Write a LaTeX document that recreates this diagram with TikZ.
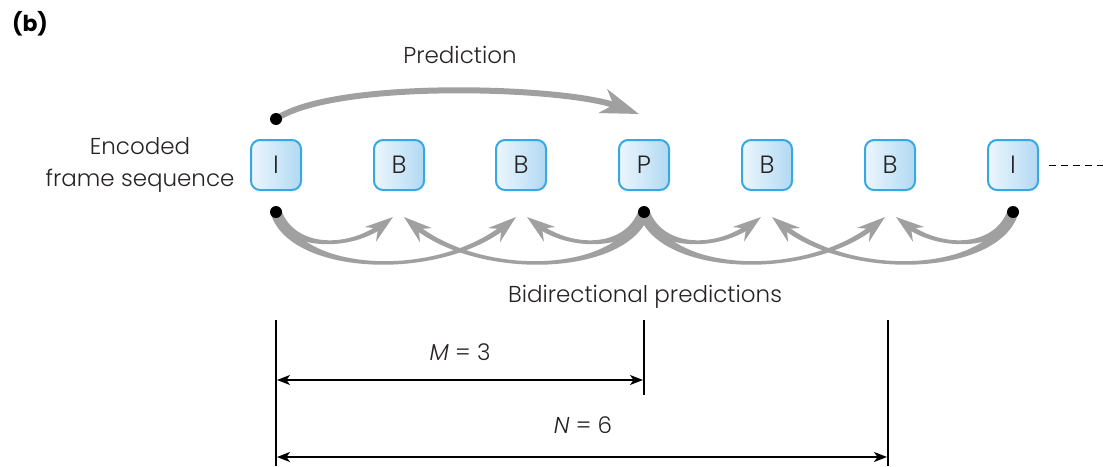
\documentclass[tikz,border=0pt]{standalone}
\usepackage{fontspec}
\setmainfont{Poppins}[UprightFont={* Light},ItalicFont={* Light Italic},BoldFont={* Bold}]
\usetikzlibrary{arrows.meta,calc}
\definecolor{arr}{RGB}{160,160,160}
\definecolor{boxedge}{RGB}{56,168,226}
\definecolor{boxl}{RGB}{236,246,253}
\definecolor{boxr}{RGB}{178,217,243}
\definecolor{txt}{RGB}{40,35,35}
% tapered arrow: #1 start (name), #2 control 1, #3 control 2, #4 tip (name)
\newcommand\taperarrow[4]{%
  \coordinate (tE) at ($(#4)!12pt!(#3)$);
  \fill[arr] ($(#1)!5.5pt!90:(#2)$) .. controls ($(#2)!5.5pt!-90:(#1)$) and ($(#3)!2.5pt!90:(tE)$) .. ($(tE)!2.5pt!-90:(#3)$)
     -- ($(tE)!2.5pt!90:(#3)$) .. controls ($(#3)!2.5pt!-90:(tE)$) and ($(#2)!5.5pt!90:(#1)$) .. ($(#1)!5.5pt!-90:(#2)$) -- cycle;
  \draw[bihead] (tE) -- (#4);
}
\begin{document}
\begin{tikzpicture}[x=1pt,y=-1pt,
  frame/.style={draw=boxedge,line width=2pt,rounded corners=9pt,minimum width=50pt,minimum height=50pt,
    left color=boxl,right color=boxr,font=\fontsize{25}{28}\selectfont,text=txt,inner sep=0pt},
  lbl/.style={font=\fontsize{23}{32}\selectfont,text=txt,inner sep=0pt},
  pred/.style={draw=arr,line width=6pt,-{Stealth[length=38pt,width=25pt,inset=11pt]}},
  bihead/.style={draw=arr,line width=4.5pt,-{Stealth[length=28pt,width=18pt,inset=9pt]}},
  dim/.style={draw=black,line width=1.3pt,{Stealth[length=13pt,width=10pt,inset=3.5pt]}-{Stealth[length=13pt,width=10pt,inset=3.5pt]}},
  tick/.style={draw=black,line width=1.3pt},
  dot/.style={fill=black}]
\useasboundingbox (0,0) rectangle (1103,466);
% frames
\node[frame] (f1) at (276,165) {I};
\node[frame] (f2) at (399,165) {B};
\node[frame] (f3) at (521,165) {B};
\node[frame] (f4) at (644,165) {P};
\node[frame] (f5) at (767,165) {B};
\node[frame] (f6) at (890,165) {B};
\node[frame] (f7) at (1013,165) {I};
\coordinate (dashend) at (1103,165);
\draw[black,line width=1pt,dash pattern=on 7pt off 5pt] ([xshift=10pt]f7.east) -- (dashend);
% labels
\node[font=\fontsize{22}{22}\selectfont\bfseries,text=black,inner sep=0pt] (b) at (30,24) {(b)};
\node[lbl] (predl) at (460,55) {Prediction};
\node[lbl,align=center] (enc) at (140,165) {Encoded\\frame sequence};
\node[lbl] (bidir) at (645,297) {Bidirectional predictions};
\node[lbl] (mlab) at (460,352) {\textit{M} = 3};
\node[lbl] (nlab) at (583,425) {\textit{N} = 6};
% coordinates
\coordinate (dTop) at (276,119);
\coordinate (tP) at (639,114);
\coordinate (d1) at (276,212);
\coordinate (d4) at (644,212);
\coordinate (d7) at (1013,212);
\coordinate (t2a) at (393,217);
\coordinate (t2b) at (404,217);
\coordinate (t3a) at (516,217);
\coordinate (t3b) at (527,217);
\coordinate (t5a) at (761,217);
\coordinate (t5b) at (772,217);
\coordinate (t6a) at (885,217);
\coordinate (t6b) at (896,217);
% prediction arrow
\draw[pred] (dTop) .. controls +(60,-40) and +(-75,-27) .. (tP);
% bidirectional arrows
\taperarrow{d1}{290,250}{350,250}{t2a}
\taperarrow{d1}{295,275}{440,280}{t3a}
\taperarrow{d4}{625,275}{480,280}{t2b}
\taperarrow{d4}{630,250}{570,250}{t3b}
\taperarrow{d4}{658,250}{718,250}{t5a}
\taperarrow{d4}{663,275}{808,280}{t6a}
\taperarrow{d7}{994,275}{849,280}{t5b}
\taperarrow{d7}{999,250}{939,250}{t6b}
\fill[dot] (dTop) circle (6pt);
\fill[dot] (d1) circle (6pt);
\fill[dot] (d4) circle (6pt);
\fill[dot] (d7) circle (6pt);
% dimensions
\coordinate (v1t) at (276,320); \coordinate (v1b) at (276,466);
\coordinate (v2t) at (644,320); \coordinate (v2b) at (644,395);
\coordinate (v3t) at (888,320); \coordinate (v3b) at (888,466);
\draw[tick] (v1t) -- (v1b);
\draw[tick] (v2t) -- (v2b);
\draw[tick] (v3t) -- (v3b);
\coordinate (m1) at (277,380); \coordinate (m2) at (643,380);
\coordinate (n1) at (277,457); \coordinate (n2) at (887,457);
\draw[dim] (m1) -- (m2);
\draw[dim] (n1) -- (n2);
\end{tikzpicture}
\end{document}
